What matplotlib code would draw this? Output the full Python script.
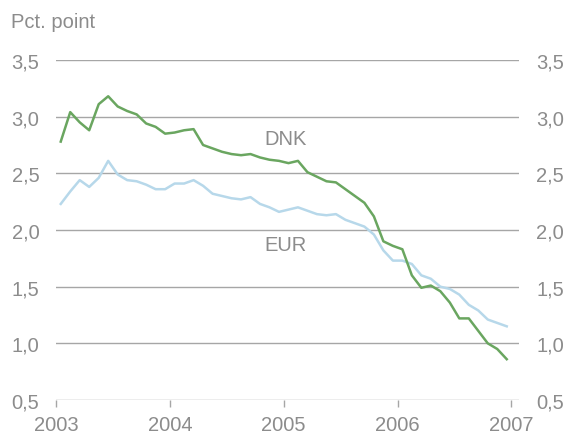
import numpy as np
import matplotlib
matplotlib.use("Agg")
import matplotlib.pyplot as plt

plt.rcParams['font.family'] = ['Liberation Sans', 'DejaVu Sans']

# Monthly data Jan 2003 - Dec 2006
dnk = [2.78, 3.04, 2.95, 2.88, 3.11, 3.18, 3.09, 3.05, 3.02, 2.94, 2.91, 2.85,
       2.86, 2.88, 2.89, 2.75, 2.72, 2.69, 2.67, 2.66, 2.67, 2.64, 2.62, 2.61,
       2.59, 2.61, 2.51, 2.47, 2.43, 2.42, 2.36, 2.30, 2.24, 2.12, 1.90, 1.86,
       1.83, 1.60, 1.49, 1.51, 1.46, 1.36, 1.22, 1.22, 1.11, 1.00, 0.95, 0.86]
eur = [2.23, 2.34, 2.44, 2.38, 2.46, 2.61, 2.49, 2.44, 2.43, 2.40, 2.36, 2.36,
       2.41, 2.41, 2.44, 2.39, 2.32, 2.30, 2.28, 2.27, 2.29, 2.23, 2.20, 2.16,
       2.18, 2.20, 2.17, 2.14, 2.13, 2.14, 2.09, 2.06, 2.03, 1.96, 1.82, 1.73,
       1.73, 1.70, 1.60, 1.57, 1.50, 1.48, 1.43, 1.34, 1.29, 1.21, 1.18, 1.15]
x = 2003 + (np.arange(len(dnk)) + 0.5) / 12

years = [2003, 2004, 2005, 2006, 2007]
yticks = [0.5, 1.0, 1.5, 2.0, 2.5, 3.0, 3.5]
ylabels = ['0,5', '1,0', '1,5', '2,0', '2,5', '3,0', '3,5']

grey = '#8c8c8c'
gridc = '#a6a6a6'
fs = 14.5

fig = plt.figure(figsize=(5.69, 4.39), dpi=100)
ax = fig.add_axes([56/569, 1-401/439, (519-56)/569, (401-61)/439])

for yv in yticks:
    ax.axhline(yv, color=gridc, lw=1.0, zorder=1)

ax.plot(x, eur, color='#b7d8ea', lw=1.8, zorder=3)
ax.plot(x, dnk, color='#6aa660', lw=1.8, zorder=4)

ax.set_xlim(2003, 2007.066)
ax.set_ylim(0.5, 3.5)
for s in ax.spines.values():
    s.set_visible(False)

ax.set_xticks(years)
ax.set_xticklabels([str(y) for y in years], color=grey, fontsize=fs)
ax.tick_params(axis='x', length=5, width=1, color=gridc, pad=6)
ax.set_yticks(yticks)
ax.set_yticklabels(ylabels, color=grey, fontsize=fs)
ax.tick_params(axis='y', length=0, pad=12)

ax2 = ax.twinx()
ax2.set_ylim(0.5, 3.5)
ax2.set_yticks(yticks)
ax2.set_yticklabels(ylabels, color=grey, fontsize=fs)
ax2.tick_params(axis='y', length=0, pad=12.5)
for s in ax2.spines.values():
    s.set_visible(False)

ax.text(2004.83, 2.81, 'DNK', color=grey, fontsize=fs, ha='left', va='center')
ax.text(2004.83, 1.876, 'EUR', color=grey, fontsize=fs, ha='left', va='center')
fig.text(11/569, 1-22/439, 'Pct. point', color=grey, fontsize=fs, ha='left', va='center')

fig.savefig('out.png', dpi=100)
